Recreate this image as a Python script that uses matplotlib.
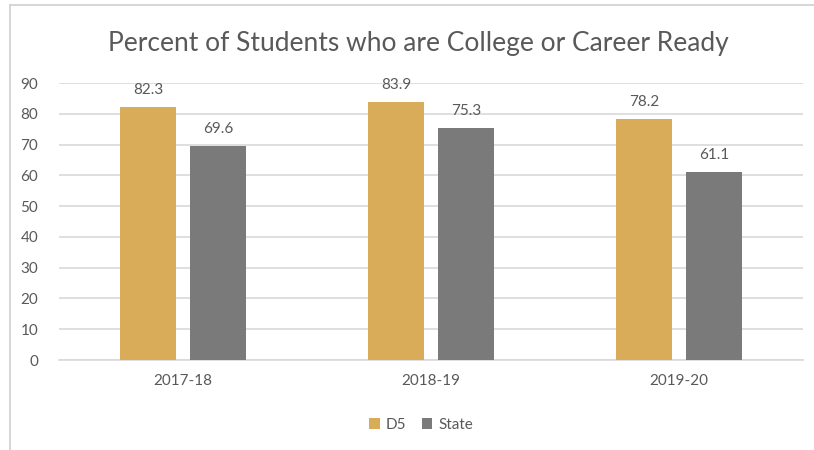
import numpy as np
import matplotlib.pyplot as plt
from matplotlib.lines import Line2D

plt.rcParams['font.family'] = ['Lato', 'DejaVu Sans']

# Chart data
years = ['2017-18', '2018-19', '2019-20']
d5 = [82.3, 83.9, 78.2]
state = [69.6, 75.3, 61.1]

gold = '#D9AC59'
grey = '#7A7A7A'
text_col = '#595959'

fig = plt.figure(figsize=(8.14, 4.5), dpi=100)
ax = fig.add_axes([59 / 814, 1 - 360 / 450, 744 / 814, 277 / 450])

x = np.arange(len(years))
w = 0.226
off = 0.141
b1 = ax.bar(x - off, d5, w, color=gold, label='D5', zorder=3)
b2 = ax.bar(x + off, state, w, color=grey, label='State', zorder=3)

for bars, vals in ((b1, d5), (b2, state)):
    for rect, v in zip(bars, vals):
        ax.text(rect.get_x() + rect.get_width() / 2, v + 3.3, f'{v:.1f}',
                ha='center', va='bottom', fontsize=11, color=text_col)

ax.set_xlim(-0.5, 2.5)
ax.set_ylim(0, 90)
ax.set_yticks(range(0, 91, 10))
ax.set_xticks(x)
ax.set_xticklabels(years)
ax.yaxis.grid(True, color='#D9D9D9', linewidth=1.2, zorder=0)
ax.set_axisbelow(True)
for s in ('top', 'right', 'left'):
    ax.spines[s].set_visible(False)
ax.spines['bottom'].set_color('#D9D9D9')
ax.spines['bottom'].set_linewidth(1.2)
ax.tick_params(axis='both', length=0, colors=text_col, labelsize=11)
ax.tick_params(axis='y', pad=15)
ax.tick_params(axis='x', pad=10)

fig.text(418 / 814, 1 - 43 / 450, 'Percent of Students who are College or Career Ready',
         ha='center', va='center', fontsize=19, color=text_col)

fig.legend(handles=[b1, b2], loc='center', bbox_to_anchor=(421 / 814, 1 - 425 / 450),
           ncol=2, frameon=False, fontsize=11, labelcolor=text_col,
           handlelength=0.7, handleheight=0.7, handletextpad=0.4, columnspacing=1.0)

# outer frame of the chart
fig.add_artist(Line2D([10 / 814, 10 / 814], [0, 1 - 5 / 450], color='#D0D0D0', lw=1.2))
fig.add_artist(Line2D([10 / 814, 1], [1 - 5 / 450, 1 - 5 / 450], color='#D0D0D0', lw=1.2))

fig.savefig('out.png', dpi=100)
